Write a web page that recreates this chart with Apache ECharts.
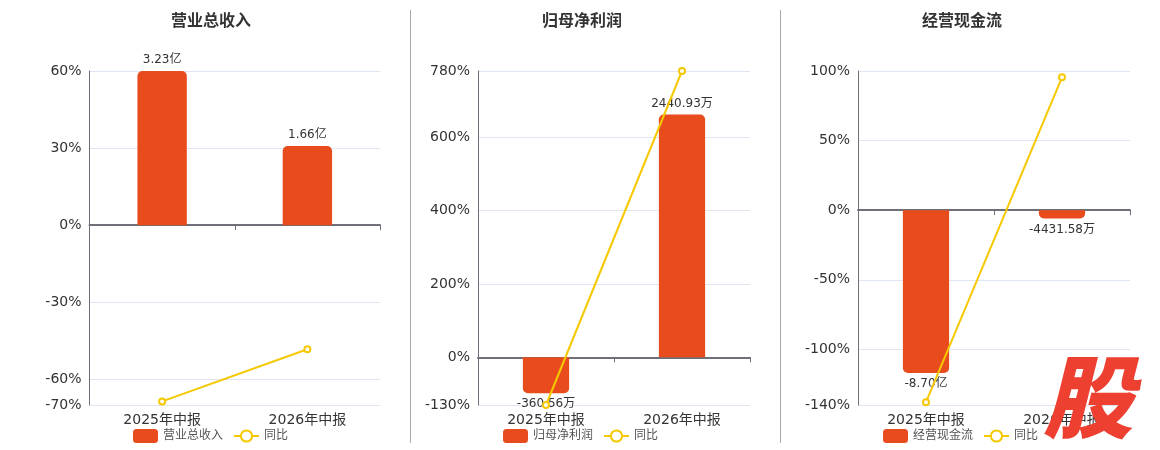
<!DOCTYPE html>
<html>
<head>
<meta charset="utf-8">
<script src="https://cdn.jsdelivr.net/npm/echarts@6/dist/echarts.min.js"></script>
<style>
html,body{margin:0;padding:0;background:#fff;}
#c{width:1160px;height:450px;}
</style>
</head>
<body>
<div id="c"></div>
<script>
// ---- data ----
const categories = ['2025年中报', '2026年中报'];
const titles = ['营业总收入', '归母净利润', '经营现金流'];
// values in 万元
const revenue = [32300, 16600];
const netProfit = [-360.56, 2440.93];
const cashFlow = [-87000, -4431.58];
// 同比 (%)
const revenueYoY = [-68.6, -48.3];
const netProfitYoY = [-130, 780];
const cashFlowYoY = [-138, 95.5];
// y-axis ticks (%)
const ticks1 = [-70, -60, -30, 0, 30, 60];
const ticks2 = [-130, 0, 200, 400, 600, 780];
const ticks3 = [-140, -100, -50, 0, 50, 100];

const barData = [revenue, netProfit, cashFlow];
const lineData = [revenueYoY, netProfitYoY, cashFlowYoY];
const tickSets = [ticks1, ticks2, ticks3];
// 万 per percent on the hidden bar axis for each panel
const barScale = [32300 / 60, 3.69, 87000 / 117];

const BAR = '#E84C1C';
const LINE = '#F5C800';
const FONT = 'DejaVu Sans, Noto Sans CJK SC, sans-serif';

const gridLefts = [89.5, 478, 858];
const gridWidths = [290.5, 272, 272];
const titleLefts = [166, 537, 917];
const legendLefts = [128, 498, 878];

function fmt(v) {
  if (Math.abs(v) >= 10000) return (v / 10000).toFixed(2) + '亿';
  return v.toFixed(2) + '万';
}

const grid = [], xAxis = [], yAxis = [], series = [], title = [], legend = [];
for (let i = 0; i < 3; i++) {
  const t = tickSets[i];
  const mn = Math.min.apply(null, t), mx = Math.max.apply(null, t);
  grid.push({ left: gridLefts[i], width: gridWidths[i], top: 71, bottom: 45 });
  title.push({ text: titles[i], left: titleLefts[i], top: 9,
    textStyle: { fontSize: 16, fontWeight: 'bold', color: '#333', fontFamily: FONT } });
  legend.push({ left: legendLefts[i], top: 424, data: [titles[i], '同比'],
    itemWidth: 25, itemHeight: 14, itemGap: 10,
    textStyle: { fontSize: 12, color: '#555', fontFamily: FONT } });
  // label axis (bottom)
  xAxis.push({ gridIndex: i, type: 'category', data: categories, position: 'bottom',
    axisLine: { show: false, onZero: false }, axisTick: { show: false },
    axisLabel: { fontSize: 14, color: '#333', margin: 8, fontFamily: FONT } });
  // zero line axis
  xAxis.push({ gridIndex: i, type: 'category', data: categories, position: 'bottom',
    axisLine: { show: true, onZero: true, lineStyle: { color: '#6E7079', width: 2 } },
    axisTick: { show: true, length: 5, lineStyle: { color: '#6E7079' } },
    axisLabel: { show: false } });
  // percent axis
  yAxis.push({ gridIndex: i, type: 'value', min: mn, max: mx,
    axisLine: { show: true, lineStyle: { color: '#6E7079' } },
    axisTick: { show: false, customValues: t },
    axisLabel: { customValues: t, formatter: '{value}%', fontSize: 14, color: '#333', fontFamily: FONT },
    splitLine: { show: true, lineStyle: { color: '#E0E6F1' } } });
  // hidden bar axis
  yAxis.push({ gridIndex: i, type: 'value', show: false,
    min: mn * barScale[i], max: mx * barScale[i], splitLine: { show: false } });
  series.push({ name: titles[i], type: 'bar', xAxisIndex: 2 * i, yAxisIndex: 2 * i + 1,
    barWidth: '34%',
    data: barData[i].map(v => ({ value: v,
      itemStyle: { borderRadius: v >= 0 ? [5, 5, 0, 0] : [0, 0, 5, 5] },
      label: { position: v >= 0 ? 'top' : 'bottom' } })),
    itemStyle: { color: BAR },
    label: { show: true, fontSize: 12, color: '#333', fontFamily: FONT, distance: 5,
      formatter: p => fmt(p.value) },
    z: 2 });
  series.push({ name: '同比', type: 'line', xAxisIndex: 2 * i, yAxisIndex: 2 * i,
    data: lineData[i], symbol: 'emptyCircle', symbolSize: 6,
    lineStyle: { color: LINE, width: 2 }, itemStyle: { color: LINE }, z: 5 });
}

const chart = echarts.init(document.getElementById('c'), null, { renderer: 'canvas' });
chart.setOption({
  animation: false,
  color: [BAR, LINE],
  title, legend, grid, xAxis, yAxis, series,
  graphic: [
    { type: 'line', shape: { x1: 410.5, y1: 10, x2: 410.5, y2: 443 }, style: { stroke: '#AAAAAA', lineWidth: 1 } },
    { type: 'line', shape: { x1: 780.5, y1: 10, x2: 780.5, y2: 443 }, style: { stroke: '#AAAAAA', lineWidth: 1 } },
    { type: 'text', left: 1043, top: 352, z: 100,
      style: { text: '股', fill: '#EE4030', fontSize: 90, fontWeight: 900, fontStyle: 'italic',
        fontFamily: 'Noto Sans CJK SC' } }
  ]
});
</script>
</body>
</html>
